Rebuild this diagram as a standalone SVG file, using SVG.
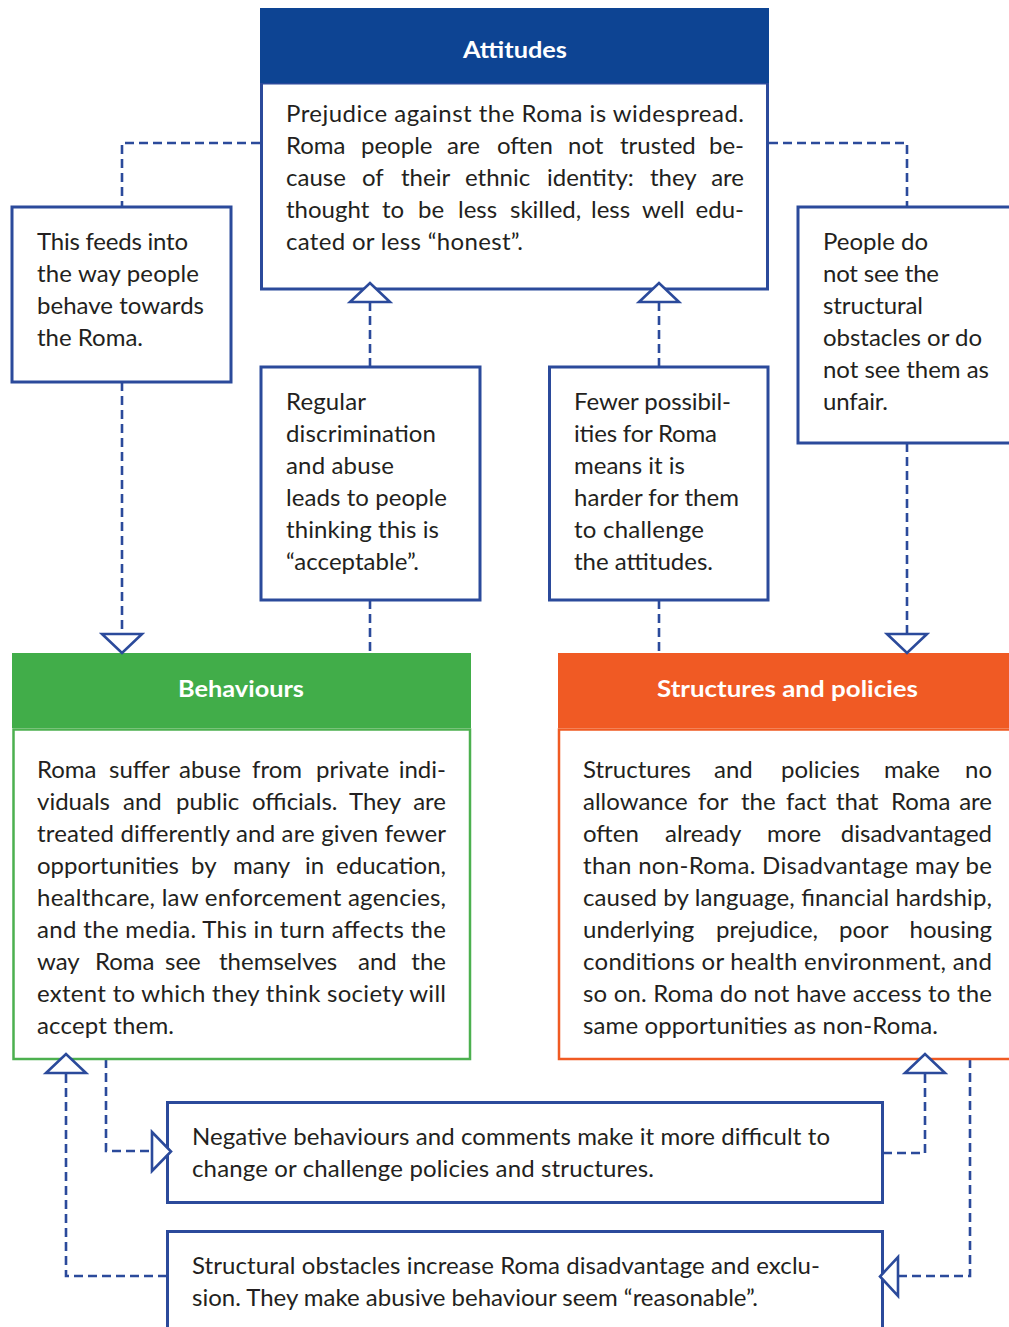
<svg xmlns="http://www.w3.org/2000/svg" width="1009" height="1327" viewBox="0 0 1009 1327">
<style>
.t{font-family:Lato,"Open Sans","Liberation Sans",sans-serif;font-size:24px;fill:#231f20}
.e{text-anchor:end}
.h{font-family:Lato,"Open Sans","Liberation Sans",sans-serif;font-size:23px;font-weight:bold;fill:#fff}
.bx{fill:#fff;stroke:#2b4a9b;stroke-width:3}
.gb{fill:#fff;stroke:#4cb04f;stroke-width:2.5}
.ob{fill:#fff;stroke:#f05a22;stroke-width:2.5}
.c{fill:none;stroke:#2b4a9b;stroke-width:2.6;stroke-dasharray:9 5}
.a{fill:#fff;stroke:#2b4a9b;stroke-width:2.6;stroke-linejoin:miter}
</style>
<rect width="1009" height="1327" fill="#fff"/>

<g id="connectors">
<path class="c" d="M260,143 H122 V207"/>
<path class="c" d="M122,382 V634"/>
<path class="c" d="M769,143 H907 V207"/>
<path class="c" d="M907,443 V634"/>
<path class="c" d="M370,367 V302"/>
<path class="c" d="M370,600 V654"/>
<path class="c" d="M659,367 V302"/>
<path class="c" d="M659,600 V654"/>
<path class="c" d="M106,1059 V1151 H152"/>
<path class="c" d="M883,1153 H925 V1073"/>
<path class="c" d="M970,1059 V1276 H898"/>
<path class="c" d="M167,1276 H66 V1073"/>
</g>

<g id="attitudes">
<rect class="bx" x="261.5" y="83" width="506" height="206"/>
<rect x="260" y="8" width="509" height="75" fill="#0d4493"/>
<text class="h" x="515" y="58" text-anchor="middle" textLength="104" lengthAdjust="spacingAndGlyphs">Attitudes</text>
<text class="t" x="286" y="122" textLength="458" lengthAdjust="spacing">Prejudice against the Roma is widespread.</text>
<text class="t" y="154"><tspan x="286">Roma</tspan> <tspan x="361">people</tspan> <tspan x="447">are</tspan> <tspan x="497">often</tspan> <tspan x="568">not</tspan> <tspan x="620">trusted</tspan> <tspan class="e" x="744">be-</tspan></text>
<text class="t" y="186"><tspan x="286">cause</tspan> <tspan x="362">of</tspan> <tspan x="401">their</tspan> <tspan x="465">ethnic</tspan> <tspan x="547">identity:</tspan> <tspan x="650">they</tspan> <tspan class="e" x="744">are</tspan></text>
<text class="t" y="218"><tspan x="286">thought</tspan> <tspan x="382">to</tspan> <tspan x="418">be</tspan> <tspan x="458">less</tspan> <tspan x="510">skilled,</tspan> <tspan x="591">less</tspan> <tspan x="642">well</tspan> <tspan class="e" x="744">edu-</tspan></text>
<text class="t" x="286" y="250" textLength="237" lengthAdjust="spacing">cated or less “honest”.</text>
</g>

<g id="feeds">
<rect class="bx" x="12" y="207" width="219" height="175"/>
<text class="t" x="37" y="250" textLength="151" lengthAdjust="spacing">This feeds into</text>
<text class="t" x="37" y="282" textLength="162" lengthAdjust="spacing">the way people</text>
<text class="t" x="37" y="314" textLength="167" lengthAdjust="spacing">behave towards</text>
<text class="t" x="37" y="346" textLength="106" lengthAdjust="spacing">the Roma.</text>
</g>

<g id="people">
<rect class="bx" x="798" y="207" width="215" height="236"/>
<text class="t" x="823" y="250" textLength="105" lengthAdjust="spacing">People do</text>
<text class="t" x="823" y="282" textLength="116" lengthAdjust="spacing">not see the</text>
<text class="t" x="823" y="314" textLength="100" lengthAdjust="spacing">structural</text>
<text class="t" x="823" y="346" textLength="159" lengthAdjust="spacing">obstacles or do</text>
<text class="t" x="823" y="378" textLength="166" lengthAdjust="spacing">not see them as</text>
<text class="t" x="823" y="410" textLength="65" lengthAdjust="spacing">unfair.</text>
</g>

<g id="regular">
<rect class="bx" x="261" y="367" width="219" height="233"/>
<text class="t" x="286" y="410" textLength="80" lengthAdjust="spacing">Regular</text>
<text class="t" x="286" y="442" textLength="150" lengthAdjust="spacing">discrimination</text>
<text class="t" x="286" y="474" textLength="108" lengthAdjust="spacing">and abuse</text>
<text class="t" x="286" y="506" textLength="161" lengthAdjust="spacing">leads to people</text>
<text class="t" x="286" y="538" textLength="153" lengthAdjust="spacing">thinking this is</text>
<text class="t" x="286" y="570" textLength="133" lengthAdjust="spacing">“acceptable”.</text>
</g>

<g id="fewer">
<rect class="bx" x="549.5" y="367" width="218.5" height="233"/>
<text class="t" x="574" y="410" textLength="157" lengthAdjust="spacing">Fewer possibil-</text>
<text class="t" x="574" y="442" textLength="143" lengthAdjust="spacing">ities for Roma</text>
<text class="t" x="574" y="474" textLength="111" lengthAdjust="spacing">means it is</text>
<text class="t" x="574" y="506" textLength="165" lengthAdjust="spacing">harder for them</text>
<text class="t" x="574" y="538" textLength="130" lengthAdjust="spacing">to challenge</text>
<text class="t" x="574" y="570" textLength="139" lengthAdjust="spacing">the attitudes.</text>
</g>

<g id="behaviours">
<rect class="gb" x="13.5" y="729.5" width="456.5" height="329.5"/>
<rect x="12" y="653" width="459" height="75" fill="#41ad49"/>
<text class="h" x="241" y="697" text-anchor="middle" textLength="126" lengthAdjust="spacingAndGlyphs">Behaviours</text>
<text class="t" y="778"><tspan x="37">Roma</tspan> <tspan x="109">suffer</tspan> <tspan x="179">abuse</tspan> <tspan x="252">from</tspan> <tspan x="316">private</tspan> <tspan class="e" x="446">indi-</tspan></text>
<text class="t" y="810"><tspan x="37">viduals</tspan> <tspan x="123">and</tspan> <tspan x="176">public</tspan> <tspan x="252">officials.</tspan> <tspan x="349">They</tspan> <tspan class="e" x="446">are</tspan></text>
<text class="t" x="37" y="842" textLength="409" lengthAdjust="spacing">treated differently and are given fewer</text>
<text class="t" y="874"><tspan x="37">opportunities</tspan> <tspan x="191">by</tspan> <tspan x="233">many</tspan> <tspan x="305">in</tspan> <tspan class="e" x="446">education,</tspan></text>
<text class="t" x="37" y="906" textLength="409" lengthAdjust="spacing">healthcare, law enforcement agencies,</text>
<text class="t" x="37" y="938" textLength="409" lengthAdjust="spacing">and the media. This in turn affects the</text>
<text class="t" y="970"><tspan x="37">way</tspan> <tspan x="95">Roma</tspan> <tspan x="165">see</tspan> <tspan x="219">themselves</tspan> <tspan x="358">and</tspan> <tspan class="e" x="446">the</tspan></text>
<text class="t" x="37" y="1002" textLength="409" lengthAdjust="spacing">extent to which they think society will</text>
<text class="t" x="37" y="1034" textLength="137" lengthAdjust="spacing">accept them.</text>
</g>

<g id="structures">
<rect class="ob" x="559" y="729.5" width="460" height="329.5"/>
<rect x="558" y="653" width="460" height="75" fill="#f05a24"/>
<text class="h" x="787.5" y="697" text-anchor="middle" textLength="261" lengthAdjust="spacingAndGlyphs">Structures  and policies</text>
<text class="t" y="778"><tspan x="583">Structures</tspan> <tspan x="714">and</tspan> <tspan x="781">policies</tspan> <tspan x="884">make</tspan> <tspan class="e" x="992">no</tspan></text>
<text class="t" y="810"><tspan x="583">allowance</tspan> <tspan x="698">for</tspan> <tspan x="741">the</tspan> <tspan x="786">fact</tspan> <tspan x="836">that</tspan> <tspan x="891">Roma</tspan> <tspan class="e" x="992">are</tspan></text>
<text class="t" y="842"><tspan x="583">often</tspan> <tspan x="665">already</tspan> <tspan x="767">more</tspan> <tspan class="e" x="992">disadvantaged</tspan></text>
<text class="t" x="583" y="874" textLength="409" lengthAdjust="spacing">than non-Roma. Disadvantage may be</text>
<text class="t" x="583" y="906" textLength="409" lengthAdjust="spacing">caused by language, financial hardship,</text>
<text class="t" y="938"><tspan x="583">underlying</tspan> <tspan x="716">prejudice,</tspan> <tspan x="839">poor</tspan> <tspan class="e" x="992">housing</tspan></text>
<text class="t" x="583" y="970" textLength="409" lengthAdjust="spacing">conditions or health environment, and</text>
<text class="t" x="583" y="1002" textLength="409" lengthAdjust="spacing">so on. Roma do not have access to the</text>
<text class="t" x="583" y="1034" textLength="355" lengthAdjust="spacing">same opportunities as non-Roma.</text>
</g>

<g id="negative">
<rect class="bx" x="167.5" y="1102.5" width="715" height="100"/>
<text class="t" x="192" y="1145" textLength="638" lengthAdjust="spacing">Negative behaviours and comments make it more difficult to</text>
<text class="t" x="192" y="1177" textLength="462" lengthAdjust="spacing">change or challenge policies and structures.</text>
</g>

<g id="structural">
<rect class="bx" x="167.5" y="1231.5" width="715" height="110"/>
<text class="t" x="192" y="1274" textLength="628" lengthAdjust="spacing">Structural obstacles increase Roma disadvantage and exclu-</text>
<text class="t" x="192" y="1306" textLength="566" lengthAdjust="spacing">sion. They make abusive behaviour seem “reasonable”.</text>
</g>

<g id="arrowheads">
<path class="a" d="M350,302 L390,302 L370,283 Z"/>
<path class="a" d="M639,302 L679,302 L659,283 Z"/>
<path class="a" d="M102,634 L142,634 L122,653 Z"/>
<path class="a" d="M887,634 L927,634 L907,653 Z"/>
<path class="a" d="M46,1073 L86,1073 L66,1054 Z"/>
<path class="a" d="M905,1073 L945,1073 L925,1054 Z"/>
<path class="a" d="M152,1132 L152,1171 L171,1151.5 Z"/>
<path class="a" d="M898,1257 L898,1296 L880,1276.5 Z"/>
</g>
</svg>
